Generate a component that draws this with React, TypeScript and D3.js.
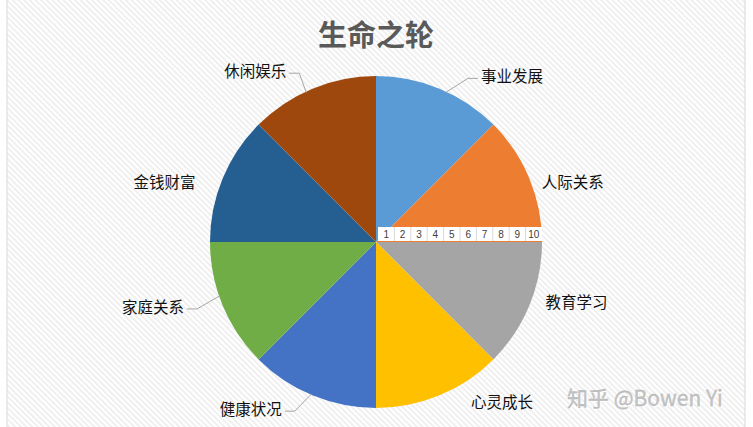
import React from "react";
import * as d3 from "d3";

const categories = ["事业发展", "人际关系", "教育学习", "心灵成长", "健康状况", "家庭关系", "金钱财富", "休闲娱乐"];
const values = [1, 1, 1, 1, 1, 1, 1, 1];
const colors = ["#5B9BD5", "#ED7D31", "#A5A5A5", "#FFC000", "#4472C4", "#70AD47", "#255E91", "#9E480E"];
const axisTicks = [1, 2, 3, 4, 5, 6, 7, 8, 9, 10];
const title = "生命之轮";
const watermark = "知乎 @Bowen Yi";

// label layout: polar angle (deg, clockwise from top), distance from centre, leader-line edge angle (or null)
const labelLayout: [number, number, number | null][] = [
  [39.2, 215, 25],
  [72.8, 206, null],
  [106.4, 209, null],
  [141.6, 203, null],
  [217, 208, 203],
  [254, 232, 251],
  [286, 220, null],
  [324.9, 210, 335],
];

const W = 753;
const H = 427;
const cx = 376;
const cy = 242;
const R = 166;

export default function App() {
  const pie = d3.pie<number>().sort(null).value((d) => d)(values);
  const arc = d3.arc<d3.PieArcDatum<number>>().innerRadius(0).outerRadius(R);
  const polar = (deg: number, r: number): [number, number] => {
    const a = (deg * Math.PI) / 180;
    return [cx + r * Math.sin(a), cy - r * Math.cos(a)];
  };
  const band = d3.scaleBand<number>().domain(axisTicks).range([cx + 2, cx + R]).padding(0);
  const fontCJK = "'Noto Sans CJK SC', 'Microsoft YaHei', sans-serif";
  const labelHalf = 32;

  return (
    <svg width={W} height={H} style={{ position: "absolute", left: 0, top: 0 }}>
      <defs>
        <pattern id="stripes" width="4" height="4" patternUnits="userSpaceOnUse" patternTransform="rotate(-45)">
          <rect width="4" height="4" fill="#ffffff" />
          <rect width="1.8" height="4" fill="#eeeeee" />
        </pattern>
      </defs>
      <rect x={0} y={0} width={W} height={H} fill="#ffffff" />
      <rect x={7} y={-2} width={738} height={H + 4} fill="url(#stripes)" stroke="#d9d9d9" strokeWidth={1} />
      <text x={cx} y={33} textAnchor="middle" dominantBaseline="central" fontFamily={fontCJK} fontSize={29} fontWeight="bold" fill="#595959">
        {title}
      </text>
      <g transform={`translate(${cx},${cy})`}>
        {pie.map((p, i) => (
          <path key={i} d={arc(p) || ""} fill={colors[i]} />
        ))}
      </g>
      <g>
        <rect x={band.range()[0]} y={cy - 15} width={band.range()[1] - band.range()[0]} height={14} fill="#ffffff" />
        {axisTicks.map((t, i) => (
          <g key={t}>
            {i > 0 && (
              <line x1={band(t)!} x2={band(t)!} y1={cy - 15} y2={cy - 1} stroke="#d9d9d9" strokeWidth={1} />
            )}
            <text x={band(t)! + band.bandwidth() / 2} y={cy - 8} textAnchor="middle" dominantBaseline="central" fontFamily="'Liberation Sans', Arial, sans-serif" fontSize={10} fill="#404040">
              {t}
            </text>
          </g>
        ))}
      </g>
      {categories.map((c, i) => {
        const [deg, dist, edge] = labelLayout[i];
        const [lx, ly] = polar(deg, dist);
        let leader = null;
        if (edge !== null) {
          const [ex, ey] = polar(edge, R - 1);
          const right = lx > cx;
          const tx = right ? lx - labelHalf - 2 : lx + labelHalf + 2;
          const ty = ly + 3;
          const mx = right ? tx - 10 : tx + 10;
          leader = <polyline points={`${ex},${ey} ${mx},${ty} ${tx},${ty}`} fill="none" stroke="#a6a6a6" strokeWidth={1} />;
        }
        return (
          <g key={c}>
            {leader}
            <text x={lx} y={ly} textAnchor="middle" dominantBaseline="central" fontFamily={fontCJK} fontSize={15.5} fill="#111111">
              {c}
            </text>
          </g>
        );
      })}
      <text x={567} y={397} dominantBaseline="central" fontFamily={fontCJK} fontSize={21} fill="#ffffff" dx={1} dy={1}>
        {watermark}
      </text>
      <text x={567} y={397} dominantBaseline="central" fontFamily={fontCJK} fontSize={21} fill="#c4c4c4" stroke="#b0b0b0" strokeWidth={0.3}>
        {watermark}
      </text>
    </svg>
  );
}
